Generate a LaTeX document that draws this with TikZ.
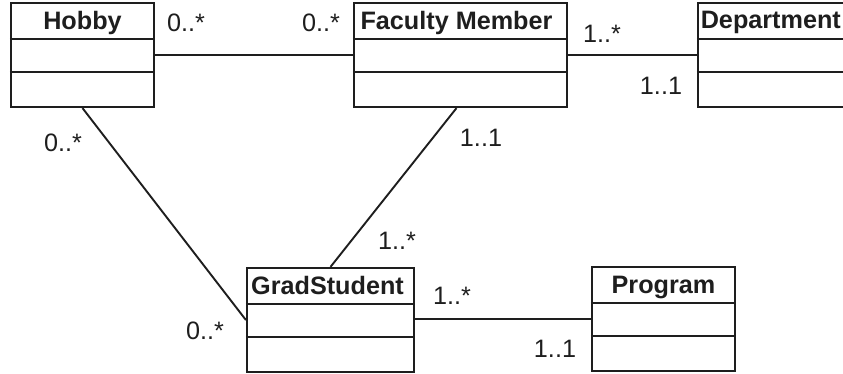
\documentclass[tikz,border=0pt]{standalone}
\usepackage{fontspec}
\setmainfont{Liberation Sans}
\usetikzlibrary{calc}
\definecolor{ink}{RGB}{30,30,30}
\begin{document}
\begin{tikzpicture}[x=0.5pt,y=-0.5pt,
  cls/.style={draw=ink, line width=1.1pt, inner sep=0pt, minimum height=52pt},
  sep/.style={draw=ink, line width=1.1pt},
  title/.style={anchor=base, inner sep=0pt, text=ink, font=\fontsize{12.6pt}{15pt}\selectfont\bfseries},
  mult/.style={anchor=base, inner sep=0pt, text=ink, font=\fontsize{12.6pt}{15pt}\selectfont},
  assoc/.style={draw=ink, line width=0.95pt}]
\useasboundingbox (0,0) rectangle (843,374);
\clip (0,0) rectangle (843,374);
% classes
\node[cls, minimum width=71.5pt] (hobby) at (82.5,55) {};
\node[cls, minimum width=106.5pt] (faculty) at (460.5,55) {};
\node[cls, minimum width=76pt] (dept) at (774,55) {};
\node[cls, minimum width=83.5pt] (grad) at (330.5,320) {};
\node[cls, minimum width=71.5pt] (program) at (663.5,319) {};
% compartments
\foreach \n in {hobby,faculty,dept,grad,program}{
  \draw[sep] ($(\n.north west)+(0,37.5)$) -- ($(\n.north east)+(0,37.5)$);
  \draw[sep] ($(\n.north west)+(0,70)$) -- ($(\n.north east)+(0,70)$);
}
% titles
\node[title] (thobby) at ($(hobby.north)+(0,28)$) {Hobby};
\node[title] (tfaculty) at ($(faculty.north)+(-4,28)$) {Faculty Member};
\node[title, anchor=base west] (tdept) at ($(dept.north west)+(3.5,27)$) {Department};
\node[title] (tgrad) at ($(grad.north)+(-3,28)$) {GradStudent};
\node[title] (tprogram) at ($(program.north)+(0,28)$) {Program};
% associations
\draw[assoc] (hobby) -- (faculty);
\draw[assoc] (faculty) -- (dept);
\draw[assoc] (hobby.south) -- (grad.west);
\draw[assoc] ($(faculty.south)+(-4,0)$) -- (grad.north);
\draw[assoc] (program.west -| grad.east) -- (program.west);
% multiplicities
\node[mult] (m1) at (186,32) {0..*};
\node[mult] (m2) at (321,32) {0..*};
\node[mult] (m3) at (602,43) {1..*};
\node[mult] (m4) at (661,95) {1..1};
\node[mult] (m5) at (63,152) {0..*};
\node[mult] (m6) at (481,147) {1..1};
\node[mult] (m7) at (397,250) {1..*};
\node[mult] (m8) at (452,305) {1..*};
\node[mult] (m9) at (555,358) {1..1};
\node[mult] (m10) at (205,340) {0..*};
\end{tikzpicture}
\end{document}
